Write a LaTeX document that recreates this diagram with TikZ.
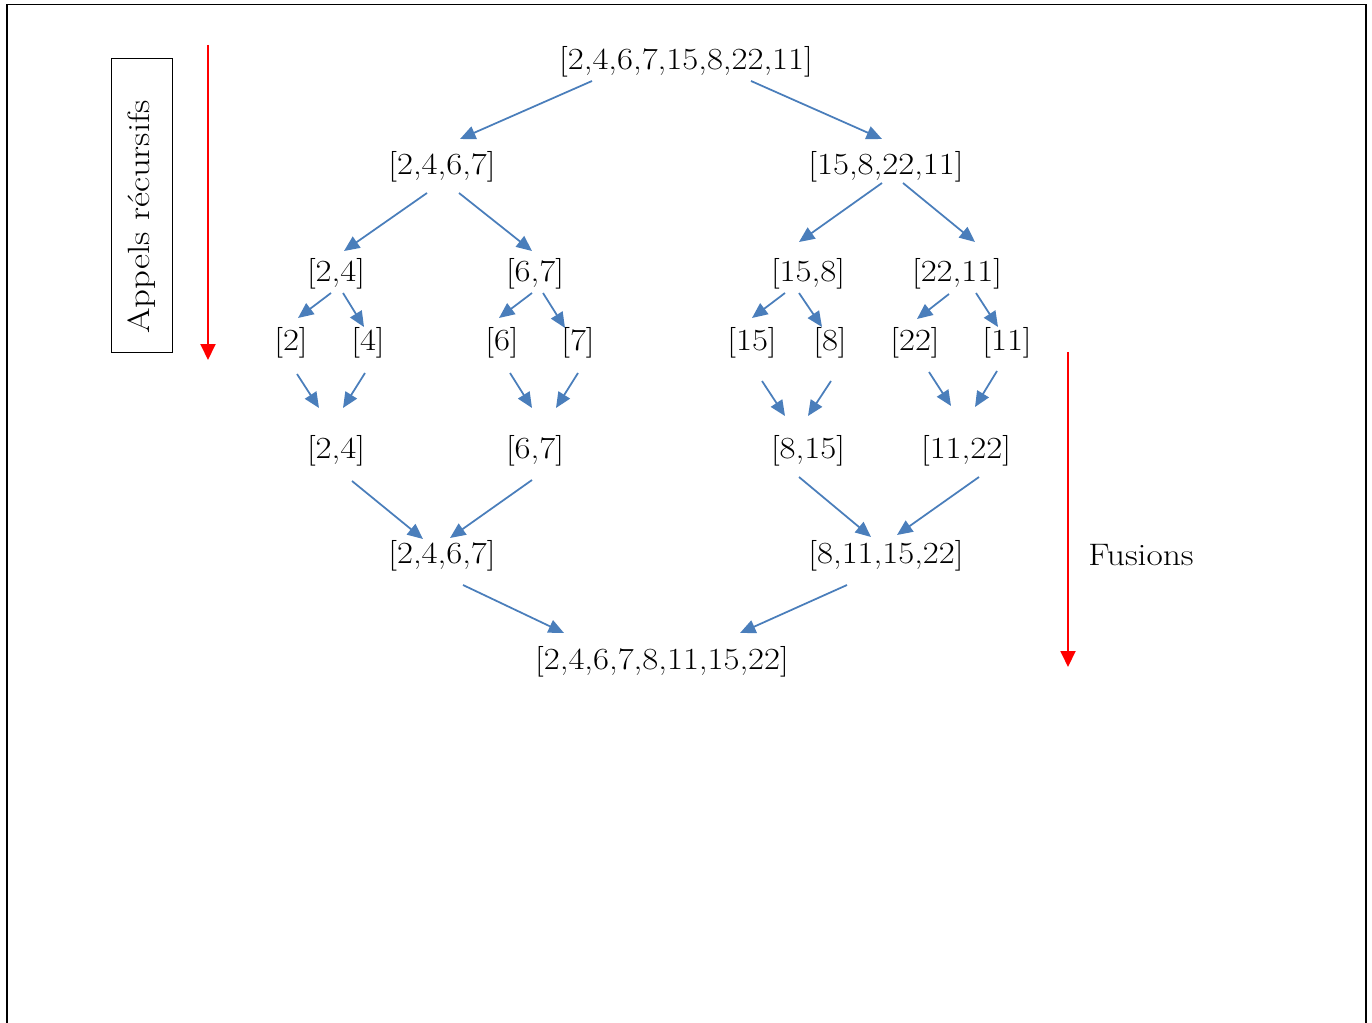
\documentclass[tikz,border=0pt]{standalone}
\usepackage{fontspec}
\usepackage{graphicx}
\usetikzlibrary{arrows.meta,calc}
\definecolor{arrblue}{RGB}{74,126,187}
\newcommand\myconn[4]{\draw[arr] ($(#1)+(#2)$) -- ($(#3)+(#4)$);}
\newcommand\wide[1]{\scalebox{1.13}[1]{#1}}
\begin{document}
\begin{tikzpicture}[x=0.02cm,y=-0.02cm,
  lbl/.style={inner sep=0pt,font=\fontsize{17.5}{20}\selectfont},
  arr/.style={draw=arrblue,line width=1pt,-{Triangle[length=0.31cm,width=0.27cm]}},
  redarr/.style={draw=red,line width=1.1pt,-{Triangle[length=0.32cm,width=0.3cm]}},
  frame/.style={draw=black,line width=1.1pt}]
\useasboundingbox (0,0) rectangle (1372,1023);
% page frame
\draw[frame] (7,1030) -- (7,4.5) -- (1366,4.5) -- (1366,1030);
% recursive calls label
\node[draw=black,line width=0.9pt,minimum width=1.22cm,minimum height=5.88cm,inner sep=0pt] (box) at (142,205.5) {};
\node[rotate=90,inner sep=0pt,font=\fontsize{17.5}{20}\selectfont] (boxtxt) at (142,217) {\scalebox{1.2}[1]{Appels récursifs}};
\coordinate (rs) at (208,45);
\coordinate (re) at (208,360);
\draw[redarr] (rs) -- (re);
% fusions
\coordinate (fs) at (1068,352);
\coordinate (fe) at (1068,667);
\draw[redarr] (fs) -- (fe);
\node[inner sep=0pt,font=\fontsize{17.7}{20}\selectfont] (fus) at (1141,555) {\scalebox{1.14}[1]{Fusions}};
% nodes
\node[lbl] (r) at (686,62) {\wide{[2,4,6,7,15,8,22,11]}};
\node[lbl] (a1) at (442,167) {\wide{[2,4,6,7]}};
\node[lbl] (a2) at (886,167) {\wide{[15,8,22,11]}};
\node[lbl] (b1) at (336,274) {\wide{[2,4]}};
\node[lbl] (b2) at (535,274) {\wide{[6,7]}};
\node[lbl] (b3) at (808,274) {\wide{[15,8]}};
\node[lbl] (b4) at (957,274) {\wide{[22,11]}};
\node[lbl] (c1) at (291,343) {\wide{[2]}};
\node[lbl] (c2) at (368,343) {\wide{[4]}};
\node[lbl] (c3) at (502,343) {\wide{[6]}};
\node[lbl] (c4) at (578,343) {\wide{[7]}};
\node[lbl] (c5) at (752,343) {\wide{[15]}};
\node[lbl] (c6) at (830,343) {\wide{[8]}};
\node[lbl] (c7) at (915,343) {\wide{[22]}};
\node[lbl] (c8) at (1007,343) {\wide{[11]}};
\node[lbl] (d1) at (336,451) {\wide{[2,4]}};
\node[lbl] (d2) at (535,451) {\wide{[6,7]}};
\node[lbl] (d3) at (808,451) {\wide{[8,15]}};
\node[lbl] (d4) at (966,451) {\wide{[11,22]}};
\node[lbl] (e1) at (442,556) {\wide{[2,4,6,7]}};
\node[lbl] (e2) at (886,556) {\wide{[8,11,15,22]}};
\node[lbl] (f) at (662,662) {\wide{[2,4,6,7,8,11,15,22]}};
% connectors
\myconn{r}{-94,19}{a1}{18,-28}
\myconn{r}{65,19}{a2}{-4,-28}
\myconn{a1}{-15,26}{b1}{8,-23}
\myconn{a1}{17,26}{b2}{-3,-23}
\myconn{a2}{-4,16}{b3}{-9,-32}
\myconn{a2}{17,16}{b4}{18,-32}
\myconn{b1}{-5,19}{c1}{7,-25}
\myconn{b1}{7,19}{c2}{-4,-16}
\myconn{b2}{-3,19}{c3}{-3,-25}
\myconn{b2}{8,19}{c4}{-13,-15}
\myconn{b3}{-23,19}{c5}{0,-25}
\myconn{b3}{-9,19}{c6}{-8,-16}
\myconn{b4}{-8,20}{c7}{2,-24}
\myconn{b4}{19,19}{c8}{-9,-16}
\myconn{c1}{6,31}{d1}{-17,-43}
\myconn{c2}{-3,30}{d1}{7,-43}
\myconn{c3}{8,30}{d2}{-3,-43}
\myconn{c4}{0,30}{d2}{21,-43}
\myconn{c5}{10,38}{d3}{-23,-35}
\myconn{c6}{1,38}{d3}{0,-35}
\myconn{c7}{14,29}{d4}{-15,-45}
\myconn{c8}{-10,28}{d4}{9,-44}
\myconn{d1}{16,30}{e1}{-19,-17}
\myconn{d2}{-3,29}{e1}{8,-18}
\myconn{d3}{-9,26}{e2}{-15,-19}
\myconn{d4}{13,26}{e2}{11,-21}
\myconn{e1}{21,29}{f}{-98,-29}
\myconn{e2}{-39,29}{f}{78,-29}
\end{tikzpicture}
\end{document}
